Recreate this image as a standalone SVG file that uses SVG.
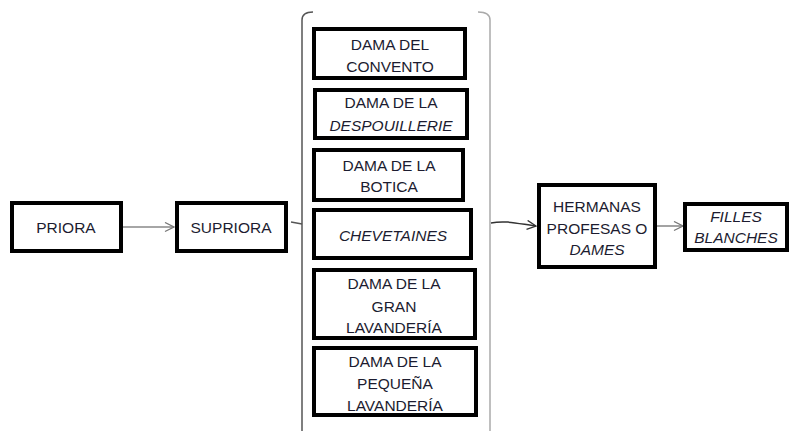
<svg xmlns="http://www.w3.org/2000/svg" width="791" height="431" viewBox="0 0 791 431">
<defs>
<marker id="arrG" markerWidth="12" markerHeight="12" refX="10" refY="5" orient="auto" markerUnits="userSpaceOnUse">
<path d="M1,0.5 L10,5 L1,9.5" fill="none" stroke="#777" stroke-width="1.3"/>
</marker>
<marker id="arrD" markerWidth="12" markerHeight="12" refX="10" refY="5" orient="auto" markerUnits="userSpaceOnUse">
<path d="M1,0.5 L10,5 L1,9.5" fill="none" stroke="#333" stroke-width="1.3"/>
</marker>
</defs>
<style>
.box{fill:#fff;stroke:#000;stroke-width:4}
text{font-family:"Liberation Sans","Open Sans",sans-serif;font-size:15.5px;fill:#1c1c30;text-anchor:middle}
.it{font-style:italic}
.con{fill:none}
</style>
<rect width="791" height="431" fill="#fff"/>
<g id="connectors">
<path class="con" d="M313,12 Q302,12 302,20 L302,431" stroke="#555" stroke-width="1.5"/>
<path class="con" d="M291,222 L302,224" stroke="#555" stroke-width="1.5"/>
<path class="con" d="M478,12 Q490,12 490,20 L490,431" stroke="#aaa" stroke-width="1.5"/>
<line x1="123" y1="227" x2="174" y2="227" stroke="#888" stroke-width="1.5" marker-end="url(#arrG)"/>
<path class="con" d="M491,223 C506,220 520,224 536,226" stroke="#333" stroke-width="1.5" marker-end="url(#arrD)"/>
<line x1="657" y1="226" x2="683" y2="226" stroke="#999" stroke-width="1.8" marker-end="url(#arrG)"/>
</g>
<g id="priora"><rect class="box" x="12" y="203" width="109" height="48"/><text x="66" y="233">PRIORA</text></g>
<g id="supriora"><rect class="box" x="177" y="203" width="109" height="48"/><text x="231" y="233">SUPRIORA</text></g>
<g id="convento"><rect class="box" x="314" y="29" width="151" height="49"/><text x="390" y="50">DAMA DEL</text><text x="390" y="72">CONVENTO</text></g>
<g id="despouillerie"><rect class="box" x="315" y="90" width="152" height="48"/><text x="391" y="108">DAMA DE LA</text><text class="it" x="391" y="131">DESPOUILLERIE</text></g>
<g id="botica"><rect class="box" x="314" y="150" width="149" height="50"/><text x="389" y="171">DAMA DE LA</text><text x="389" y="192">BOTICA</text></g>
<g id="chevetaines"><rect class="box" x="314" y="210" width="157" height="48"/><text class="it" x="393" y="241">CHEVETAINES</text></g>
<g id="gran"><rect class="box" x="314" y="270" width="161" height="68"/><text x="394" y="289">DAMA DE LA</text><text x="394" y="312">GRAN</text><text x="394" y="333">LAVANDERÍA</text></g>
<g id="pequena"><rect class="box" x="314" y="348" width="162" height="67"/><text x="395" y="367">DAMA DE LA</text><text x="395" y="389">PEQUEÑA</text><text x="395" y="411">LAVANDERÍA</text></g>
<g id="hermanas"><rect class="box" x="539" y="185" width="116" height="82"/><text x="597" y="212">HERMANAS</text><text x="597" y="234">PROFESAS O</text><text class="it" x="597" y="255">DAMES</text></g>
<g id="filles"><rect class="box" x="685" y="204" width="102" height="46"/><text class="it" x="736" y="222">FILLES</text><text class="it" x="736" y="243">BLANCHES</text></g>
</svg>
